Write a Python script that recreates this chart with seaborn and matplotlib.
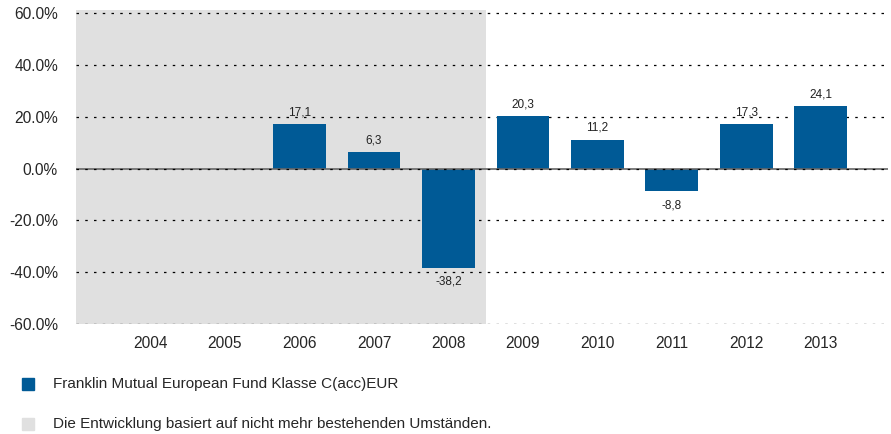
import seaborn as sns
import matplotlib.pyplot as plt
import pandas as pd
import numpy as np
from matplotlib.patches import Rectangle

years = ['2004', '2005', '2006', '2007', '2008', '2009', '2010', '2011', '2012', '2013']
returns = [np.nan, np.nan, 17.1, 6.3, -38.2, 20.3, 11.2, -8.8, 17.3, 24.1]
yticks = [60, 40, 20, 0, -20, -40, -60]
fund_name = 'Franklin Mutual European Fund Klasse C(acc)EUR'
note = 'Die Entwicklung basiert auf nicht mehr bestehenden Umständen.'

blue = '#005a96'
grey = '#e0e0e0'

sns.set_style('white')
plt.rcParams['font.family'] = ['Liberation Sans', 'DejaVu Sans']

df = pd.DataFrame({'year': years, 'ret': returns})

fig = plt.figure(figsize=(8.91, 4.34), dpi=100)
ax = fig.add_axes([0.0853, 0.2535, 0.9113, 0.7235])

# shaded period (2004-2008)
ax.axvspan(-1, 4.5, color=grey, zorder=0, lw=0)

for t in yticks:
    if t != 0:
        ax.axhline(t, color='black', ls=(0, (2, 5)), lw=0.9, zorder=1)
ax.axhline(0, color='#666666', lw=1.2, zorder=3)
ax.axhline(0, color='black', ls=(0, (2, 5)), lw=0.9, zorder=3)

sns.barplot(data=df.dropna(), x='year', y='ret', order=years, color=blue,
            saturation=1, width=0.71, linewidth=0, ax=ax, zorder=2)

for i, v in enumerate(returns):
    if np.isnan(v):
        continue
    lab = f'{v:.1f}'.replace('.', ',')
    if v >= 0:
        ax.text(i, v + 2.2, lab, ha='center', va='bottom', fontsize=8.5, color='#222222')
    else:
        ax.text(i, v - 3.2, lab, ha='center', va='top', fontsize=8.5, color='#222222')

ax.set_xlim(-1, 9.9)
ax.set_ylim(-60, 61.2)
ax.set_yticks(yticks)
ax.set_yticklabels([f'{t:.1f}%' for t in yticks])
ax.tick_params(axis='y', length=0, pad=13, labelsize=11.2)
ax.tick_params(axis='x', length=0, pad=9, labelsize=11.2)
ax.set_xlabel('')
ax.set_ylabel('')
sns.despine(ax=ax, left=True, bottom=True)

# legend
fig.add_artist(Rectangle((22 / 891, 1 - 390 / 434), 12 / 891, 12 / 434,
                         transform=fig.transFigure, color=blue))
fig.text(53 / 891, 1 - 384 / 434, fund_name, fontsize=11, va='center')
fig.add_artist(Rectangle((22 / 891, 1 - 430 / 434), 12 / 891, 12 / 434,
                         transform=fig.transFigure, color=grey))
fig.text(53 / 891, 1 - 424 / 434, note, fontsize=11, va='center')

plt.savefig('out.png', dpi=100)
